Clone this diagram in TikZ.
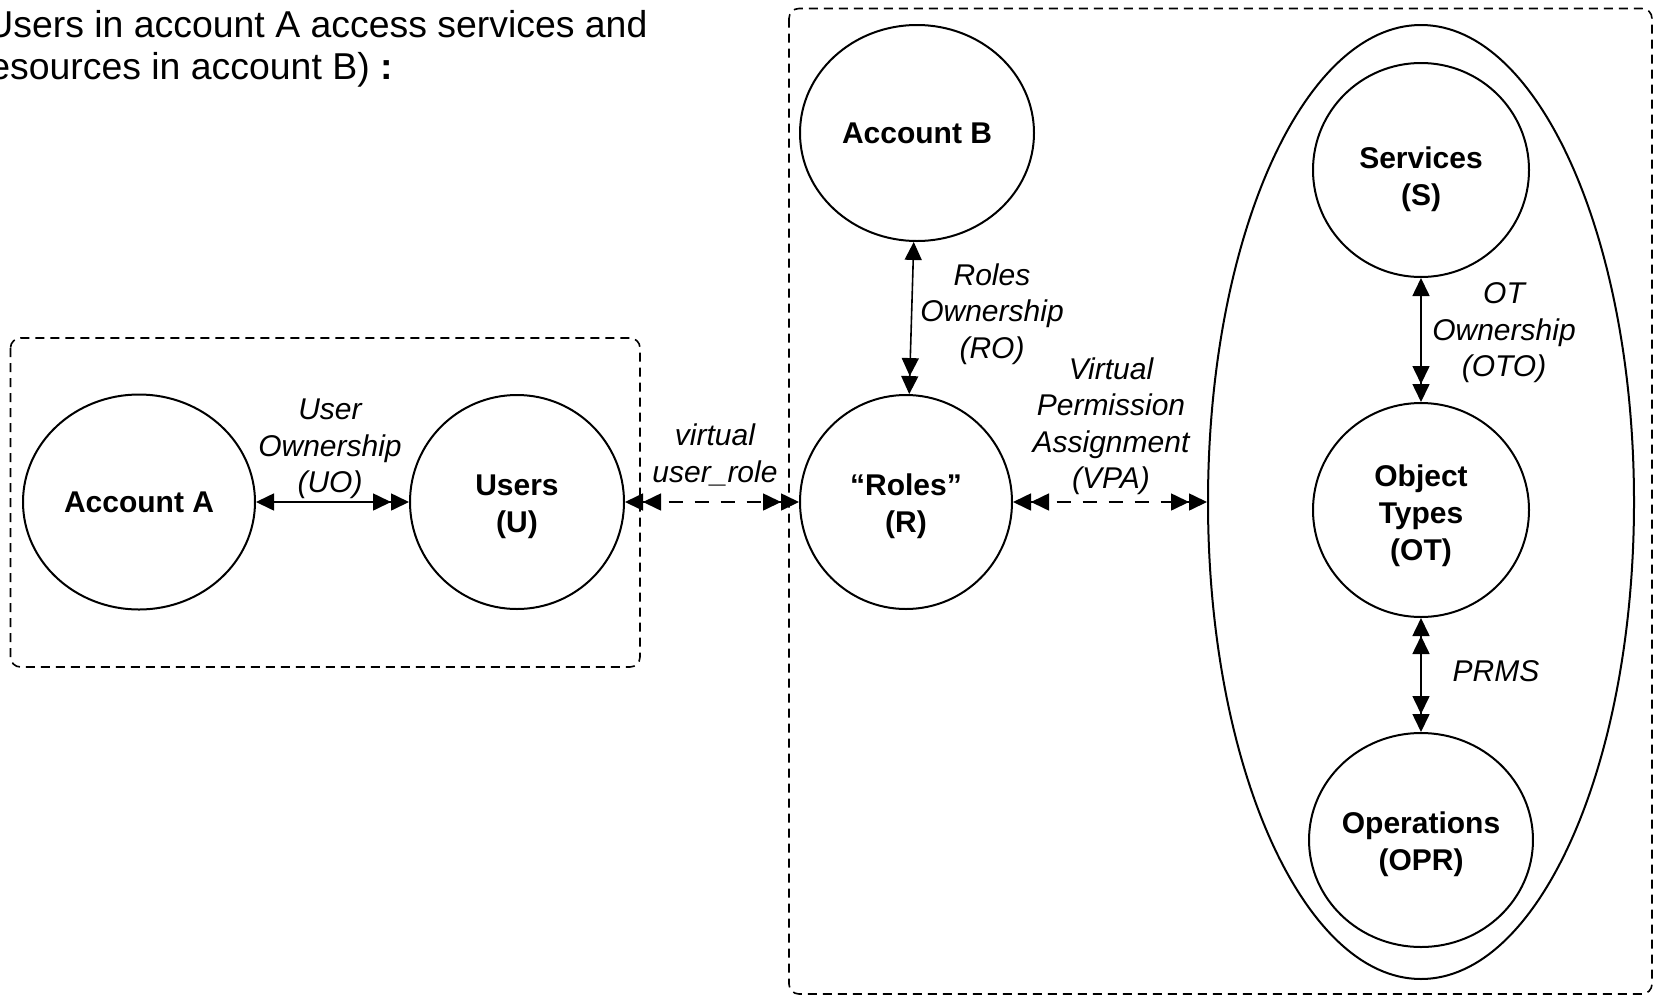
\documentclass[tikz,border=0pt]{standalone}
\usepackage{fontspec}
\setmainfont{Liberation Sans}
\usetikzlibrary{arrows.meta,shapes.geometric}
% invisible strut that adds room above the first line of a label
\newcommand\toproom[1]{\rule{0pt}{#1}}
\begin{document}
\begin{tikzpicture}[x=0.5pt,y=-0.5pt,
  ent/.style={draw, ellipse, line width=1pt, inner sep=0pt, align=center,
    font=\fontsize{15}{18.5}\selectfont\bfseries},
  rel/.style={inner sep=0pt, align=center,
    font=\fontsize{15}{18.25}\selectfont\itshape},
  grp/.style={draw, line width=0.8pt, rounded corners=5pt, dash pattern=on 4.5pt off 3pt},
  hd/.tip={Triangle[length=9pt,width=8.5pt,sep=0pt]},
  conn/.style={line width=0.8pt},
  vconn/.style={line width=0.8pt, dash pattern=on 7pt off 6pt},
  one2many/.style={arrows={hd[]-hd[]hd[]}},
  many2many/.style={arrows={hd[]hd[]-hd[]hd[]}}
]
\useasboundingbox[fill=white] (0,0) rectangle (1655,996);

% heading
\node[anchor=north west, inner sep=0pt, align=left,
      font=\fontsize{18.7}{21}\selectfont] (title) at (-14,10)
  {Users in account A access services and\\\hspace*{-4.75pt}resources in account B) \textbf{:}};

% account groups
\draw[grp] (10.5,338) rectangle (640,667);
\draw[grp] (789,8.5) rectangle (1652,994);

% entities
\node[ent, minimum width=116pt, minimum height=107.5pt] (accA) at (139,502) {Account A};
\node[ent, minimum width=107pt, minimum height=107pt] (users) at (517,502) {\toproom{15pt}Users\\(U)};
\node[ent, minimum width=106pt, minimum height=107pt] (roles) at (906,502) {\toproom{15.6pt}“Roles”\\(R)};
\node[ent, minimum width=117pt, minimum height=108pt] (accB) at (917,133) {Account B};
\node[draw, ellipse, line width=1pt, inner sep=0pt,
      minimum width=213pt, minimum height=477pt] (space) at (1421,502) {};
\node[ent, minimum width=108pt, minimum height=107pt] (serv) at (1421,170) {\toproom{20pt}Services\\(S)};
\node[ent, minimum width=108pt, minimum height=107pt] (ot) at (1421,510) {\toproom{16.8pt}Object\\Types\\(OT)};
\node[ent, minimum width=108pt, minimum height=107pt] (opr) at (1421,840) {\toproom{15.3pt}Operations\\(OPR)};

% relations
\draw[conn, one2many] (accA.east) -- (users.west);
\draw[vconn, many2many] (users.east) -- (roles.west);
\draw[vconn, many2many] (roles.east) -- (space.west);
\draw[conn, one2many] (accB) -- (roles);
\draw[conn, one2many] (serv) -- (ot);
\draw[conn, many2many] (ot) -- (opr);

% relation labels
\node[rel] (lUO) at (330,449) {User\\Ownership\\(UO)};
\node[rel] (lVUR) at (715,455) {virtual\\user\_role};
\node[rel] (lRO) at (992,314) {Roles\\Ownership\\(RO)};
\node[rel] (lVPA) at (1111,426) {Virtual\\Permission\\Assignment\\(VPA)};
\node[rel] (lOTO) at (1504,333) {OT\\Ownership\\(OTO)};
\node[rel] (lPRMS) at (1496,671) {PRMS};
\end{tikzpicture}
\end{document}
